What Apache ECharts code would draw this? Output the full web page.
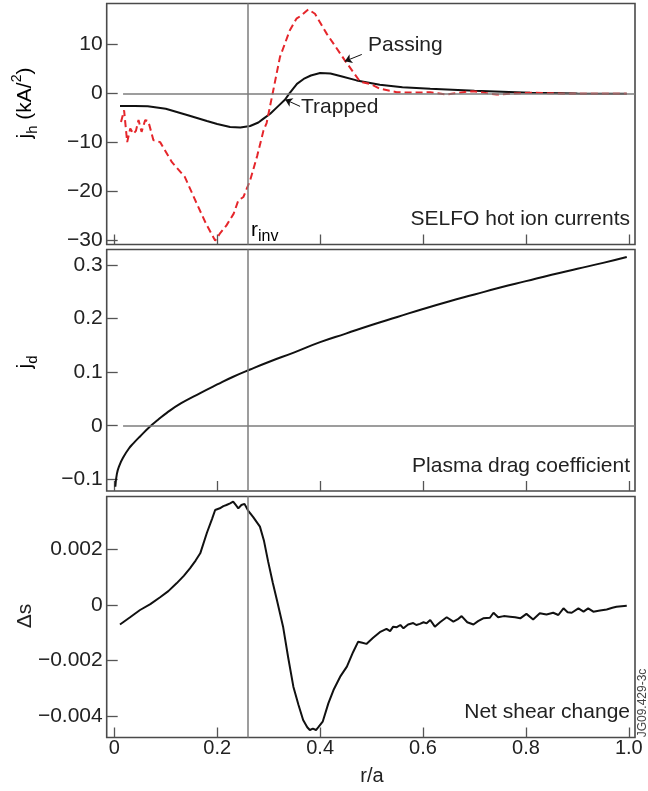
<!DOCTYPE html>
<html>
<head>
<meta charset="utf-8">
<script src="https://cdn.jsdelivr.net/npm/echarts@6/dist/echarts.min.js"></script>
<style>
    html, body { margin: 0; padding: 0; background: #fff; }
    #grafico { width: 648px; height: 791px; }
</style>
</head>
<body>
<div id="grafico"></div>
<script>
// SELFO hot ion currents (kA/m2) - trapped
var rTrapped = [0.011, 0.04, 0.065, 0.1, 0.143, 0.18, 0.2, 0.225, 0.245, 0.264, 0.28, 0.29, 0.303, 0.318, 0.332, 0.34, 0.355, 0.368, 0.382, 0.4, 0.42, 0.439, 0.471, 0.516, 0.56, 0.614, 0.7, 0.808, 0.9, 0.996];
var jTrapped = [-2.5, -2.5, -2.6, -3.1, -4.4, -5.6, -6.2, -6.8, -6.9, -6.6, -5.9, -5.1, -4.1, -2.6, -1.2, 0, 2.0, 3.0, 3.7, 4.2, 4.1, 3.6, 2.7, 1.8, 1.3, 1.0, 0.6, 0.2, 0.05, 0];

// passing
var rPassing = [0.013, 0.019, 0.025, 0.031, 0.037, 0.042, 0.047, 0.053, 0.06, 0.066, 0.076, 0.089, 0.112, 0.137, 0.16, 0.178, 0.196, 0.205, 0.218, 0.232, 0.241, 0.251, 0.264, 0.278, 0.29, 0.296, 0.309, 0.322, 0.341, 0.354, 0.364, 0.377, 0.39, 0.413, 0.426, 0.448, 0.478, 0.497, 0.516, 0.549, 0.581, 0.614, 0.646, 0.678, 0.697, 0.743, 0.776, 0.808, 0.873, 0.938, 0.996];
var jPassing = [-5.8, -3.4, -9.9, -7.1, -8.2, -7.6, -5.4, -7.8, -5.4, -5.6, -9.5, -9.9, -14, -17, -22.4, -26.5, -30, -28.6, -26.9, -24.5, -21.8, -21.1, -17.7, -12.6, -7.5, -6.0, 0.7, 7.5, 12.9, 15.3, 16, 17.2, 16.3, 12.2, 10.2, 6.8, 2.4, 2.0, 1.0, 0.3, 0.2, 0.3, -0.2, 0.3, 0.5, -0.2, 0, 0.2, 0, 0, 0];

// plasma drag coefficient
var rDrag = [0.002, 0.005, 0.01, 0.018, 0.028, 0.037, 0.05, 0.069, 0.085, 0.102, 0.13, 0.167, 0.2, 0.23, 0.264, 0.3, 0.35, 0.4, 0.45, 0.5, 0.55, 0.6, 0.65, 0.7, 0.75, 0.8, 0.85, 0.9, 0.95, 0.996];
var jDrag = [-0.114, -0.09, -0.074, -0.058, -0.043, -0.033, -0.02, -0.002, 0.011, 0.024, 0.042, 0.061, 0.077, 0.091, 0.105, 0.119, 0.137, 0.156, 0.172, 0.188, 0.203, 0.218, 0.232, 0.245, 0.258, 0.27, 0.282, 0.293, 0.304, 0.315];

// net shear change
var rShear = [0.011, 0.03, 0.05, 0.07, 0.089, 0.105, 0.121, 0.135, 0.147, 0.158, 0.167, 0.18, 0.19, 0.196, 0.205, 0.212, 0.218, 0.225, 0.231, 0.236, 0.241, 0.247, 0.253, 0.26, 0.27, 0.283, 0.291, 0.299, 0.308, 0.316, 0.328, 0.338, 0.348, 0.358, 0.367, 0.375, 0.38, 0.386, 0.392, 0.397, 0.405, 0.416, 0.426, 0.439, 0.452, 0.464, 0.474, 0.482, 0.49, 0.503, 0.516, 0.529, 0.536, 0.542, 0.549, 0.556, 0.562, 0.571, 0.581, 0.587, 0.594, 0.601, 0.607, 0.614, 0.623, 0.633, 0.646, 0.659, 0.667, 0.675, 0.686, 0.698, 0.707, 0.717, 0.73, 0.737, 0.746, 0.757, 0.769, 0.779, 0.789, 0.795, 0.801, 0.814, 0.827, 0.84, 0.853, 0.863, 0.873, 0.881, 0.889, 0.902, 0.912, 0.921, 0.931, 0.944, 0.957, 0.968, 0.976, 0.996];
var dsShear = [-0.0007, -0.00045, -0.00018, 0.00003, 0.00028, 0.0005, 0.00078, 0.00105, 0.00132, 0.0016, 0.00186, 0.0026, 0.0031, 0.00342, 0.00348, 0.00356, 0.0036, 0.00366, 0.00372, 0.0036, 0.00348, 0.0036, 0.00364, 0.0034, 0.00316, 0.00282, 0.0023, 0.00156, 0.0008, 0.00018, -0.00078, -0.0019, -0.00294, -0.0036, -0.00414, -0.0044, -0.0045, -0.00445, -0.0045, -0.00439, -0.0042, -0.00354, -0.00306, -0.00258, -0.00222, -0.0017, -0.00132, -0.00136, -0.0014, -0.00118, -0.00098, -0.00086, -0.00094, -0.00078, -0.0008, -0.00072, -0.00084, -0.0007, -0.00065, -0.00072, -0.00068, -0.00062, -0.00066, -0.00054, -0.00078, -0.00062, -0.00044, -0.0006, -0.00052, -0.0004, -0.00062, -0.0007, -0.00058, -0.00048, -0.00046, -0.00028, -0.00044, -0.0004, -0.00042, -0.00044, -0.00048, -0.0004, -0.00032, -0.00052, -0.0003, -0.00034, -0.00028, -0.00036, -0.00012, -0.00026, -0.00028, -0.00012, -0.00024, -0.00012, -0.00024, -0.0002, -0.00016, -0.0001, -0.00006, -0.00003];

// ticks
var ticksR = [0, 0.2, 0.4, 0.6, 0.8, 1.0];
var ticksJh = [-30, -20, -10, 0, 10];
var ticksJd = [-0.1, 0, 0.1, 0.2, 0.3];
var ticksDs = [-0.004, -0.002, 0, 0.002];

var rInv = 0.2637;

(function () {
    'use strict';

    var FONTE = "'Liberation Sans', Arial, sans-serif";
    var chart = echarts.init(document.getElementById('grafico'), null, { renderer: 'canvas' });

    function pares(xs, ys) {
        return xs.map(function (x, i) { return [x, ys[i]]; });
    }

    function rotulo(v) {
        if (v === 1) return '1.0';
        return String(v).replace('-', '\u2212');
    }

    var grades = [
        { left: 106.7, top: 3.5, width: 528.3, height: 241 },
        { left: 106.7, top: 249.5, width: 528.3, height: 241.5 },
        { left: 106.7, top: 496.5, width: 528.3, height: 241 }
    ].map(function (g) {
        g.show = true;
        g.borderColor = '#4a4a4a';
        g.borderWidth = 1.6;
        g.containLabel = false;
        return g;
    });

    function eixoX(i) {
        return {
            type: 'value',
            gridIndex: i,
            position: 'bottom',
            min: -0.0148,
            max: 1.012,
            axisLine: { show: false, onZero: false },
            splitLine: { show: false },
            axisTick: { inside: true, length: 10, customValues: ticksR, lineStyle: { color: '#555', width: 1.3 } },
            axisLabel: {
                show: i === 2,
                customValues: ticksR,
                margin: 1,
                fontFamily: FONTE,
                fontSize: 20,
                color: '#222',
                formatter: rotulo
            }
        };
    }

    function eixoY(i, min, max, ticks) {
        return {
            type: 'value',
            gridIndex: i,
            position: 'left',
            min: min,
            max: max,
            axisLine: { show: false, onZero: false },
            splitLine: { show: false },
            axisTick: { inside: true, length: 11, customValues: ticks, lineStyle: { color: '#555', width: 1.3 } },
            axisLabel: {
                customValues: ticks,
                margin: 4,
                fontFamily: FONTE,
                fontSize: 21,
                color: '#222',
                formatter: rotulo
            }
        };
    }

    var cinza = { color: '#7d7d7d', width: 1.5, type: 'solid' };
    var seta = { color: '#111', width: 1, type: 'solid' };

    function linhaInv(extra) {
        var dados = [{ xAxis: rInv, lineStyle: cinza }];
        return {
            silent: true,
            symbol: 'none',
            label: { show: false },
            data: dados.concat(extra || [])
        };
    }

    function linhaZero() {
        return [[{ coord: [0.017, 0], lineStyle: cinza }, { coord: [1.012, 0] }]];
    }

    function flecha(de, para) {
        return [{ coord: de, lineStyle: seta, symbol: 'none' }, { coord: para, symbol: 'arrow', symbolSize: 7 }];
    }

    var option = {
        animation: false,
        backgroundColor: '#fff',
        grid: grades,
        xAxis: [eixoX(0), eixoX(1), eixoX(2)],
        yAxis: [
            eixoY(0, -30.8, 18.4, ticksJh),
            eixoY(1, -0.1219, 0.329, ticksJd),
            eixoY(2, -0.004769, 0.003905, ticksDs)
        ],
        series: [
            {
                name: 'Trapped',
                type: 'line',
                xAxisIndex: 0, yAxisIndex: 0,
                showSymbol: false,
                data: pares(rTrapped, jTrapped),
                lineStyle: { color: '#111', width: 2 },
                markLine: linhaInv(linhaZero().concat([
                    flecha([0.481, 8.0], [0.448, 6.6]),
                    flecha([0.361, -2.6], [0.332, -1.2])
                ]))
            },
            {
                name: 'Passing',
                type: 'line',
                xAxisIndex: 0, yAxisIndex: 0,
                showSymbol: false,
                data: pares(rPassing, jPassing),
                lineStyle: { color: '#e5262b', width: 2, type: [7, 4] }
            },
            {
                name: 'Plasma drag coefficient',
                type: 'line',
                xAxisIndex: 1, yAxisIndex: 1,
                showSymbol: false,
                smooth: true,
                data: pares(rDrag, jDrag),
                lineStyle: { color: '#111', width: 2 },
                markLine: linhaInv(linhaZero())
            },
            {
                name: 'Net shear change',
                type: 'line',
                xAxisIndex: 2, yAxisIndex: 2,
                showSymbol: false,
                data: pares(rShear, dsShear),
                lineStyle: { color: '#111', width: 2 },
                markLine: linhaInv()
            }
        ],
        graphic: [
            // nomes dos eixos
            {
                type: 'text', x: 25, y: 103, rotation: Math.PI / 2,
                style: {
                    text: '{m|j}{s|h}{m| (kA/}{p|2}{m|)}',
                    align: 'center', verticalAlign: 'middle',
                    rich: {
                        m: { fontFamily: FONTE, fontSize: 21, color: '#222', lineHeight: 30, verticalAlign: 'middle' },
                        s: { fontFamily: FONTE, fontSize: 15, color: '#222', lineHeight: 15, verticalAlign: 'bottom' },
                        p: { fontFamily: FONTE, fontSize: 14, color: '#222', lineHeight: 14, verticalAlign: 'top' }
                    }
                }
            },
            {
                type: 'text', x: 25, y: 362, rotation: Math.PI / 2,
                style: {
                    text: '{m|j}{s|d}',
                    align: 'center', verticalAlign: 'middle',
                    rich: {
                        m: { fontFamily: FONTE, fontSize: 21, color: '#222', lineHeight: 30, verticalAlign: 'middle' },
                        s: { fontFamily: FONTE, fontSize: 15, color: '#222', lineHeight: 15, verticalAlign: 'bottom' }
                    }
                }
            },
            {
                type: 'text', x: 25, y: 616, rotation: Math.PI / 2,
                style: { text: '\u0394s', align: 'center', verticalAlign: 'middle', font: '21px ' + FONTE, fill: '#222' }
            },
            {
                type: 'text', x: 372, y: 776,
                style: { text: 'r/a', align: 'center', verticalAlign: 'middle', font: '20px ' + FONTE, fill: '#222' }
            },
            // anotacoes
            {
                type: 'text', x: 251, y: 230,
                style: {
                    text: '{m|r}{s|inv}',
                    align: 'left', verticalAlign: 'middle',
                    rich: {
                        m: { fontFamily: FONTE, fontSize: 21, color: '#222', lineHeight: 30, verticalAlign: 'middle' },
                        s: { fontFamily: FONTE, fontSize: 16, color: '#222', lineHeight: 16, verticalAlign: 'bottom' }
                    }
                }
            },
            {
                type: 'text', x: 630, y: 219,
                style: { text: 'SELFO hot ion currents', align: 'right', verticalAlign: 'middle', font: '21px ' + FONTE, fill: '#222' }
            },
            {
                type: 'text', x: 630, y: 466,
                style: { text: 'Plasma drag coefficient', align: 'right', verticalAlign: 'middle', font: '21px ' + FONTE, fill: '#222' }
            },
            {
                type: 'text', x: 630, y: 712,
                style: { text: 'Net shear change', align: 'right', verticalAlign: 'middle', font: '21px ' + FONTE, fill: '#222' }
            },
            {
                type: 'text', x: 368, y: 45,
                style: { text: 'Passing', align: 'left', verticalAlign: 'middle', font: '21px ' + FONTE, fill: '#222' }
            },
            {
                type: 'text', x: 301, y: 107,
                style: { text: 'Trapped', align: 'left', verticalAlign: 'middle', font: '21px ' + FONTE, fill: '#222' }
            },
            {
                type: 'text', x: 642.5, y: 703, rotation: Math.PI / 2,
                style: { text: 'JG09.429-3c', align: 'center', verticalAlign: 'middle', font: '12px ' + FONTE, fill: '#444' }
            }
        ]
    };

    chart.setOption(option);
})();
</script>
</body>
</html>
